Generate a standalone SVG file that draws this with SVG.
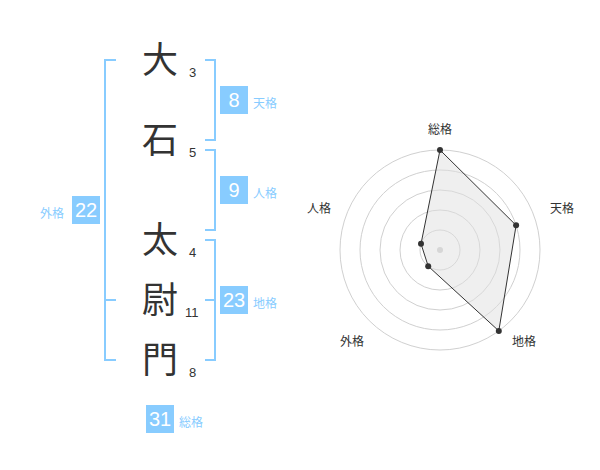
<svg xmlns="http://www.w3.org/2000/svg" width="600" height="470" viewBox="0 0 600 470">
<style>
.ch{font-family:"Noto Sans CJK JP","Noto Sans CJK SC",sans-serif;font-size:36px;fill:#333;text-anchor:middle}
.n{font-family:"Liberation Sans",Arial,sans-serif;font-size:13px;fill:#333}
.br{fill:none;stroke:#88ccff;stroke-width:2}
.box{fill:#88ccff}
.bn{font-family:"Liberation Sans",Arial,sans-serif;font-size:20px;fill:#fff;text-anchor:middle}
.lb{font-family:"Noto Sans CJK JP","Noto Sans CJK SC",sans-serif;font-size:12px;fill:#88ccff}
.ring{fill:none;stroke:#d0d0d0;stroke-width:1}
.ax{font-family:"Noto Sans CJK JP","Noto Sans CJK SC",sans-serif;font-size:12px;fill:#333;text-anchor:middle}
.pt{fill:#333}
</style>
<rect width="600" height="470" fill="#fff"/>
<g id="connectors">
<path class="br" d="M116,60 H105 V360 H116 M105,300 H116"/>
<path class="br" d="M205,60 H215 V140 H205"/>
<path class="br" d="M205,150 H215 V230 H205"/>
<path class="br" d="M205,240 H215 V360 H205 M205,300 H215"/>
</g>
<g id="char-1"><text class="ch" x="160" y="73">大</text><text class="n" x="189" y="77">3</text></g>
<g id="char-2"><text class="ch" x="160" y="153">石</text><text class="n" x="189" y="157">5</text></g>
<g id="char-3"><text class="ch" x="160" y="253">太</text><text class="n" x="189" y="257">4</text></g>
<g id="char-4"><text class="ch" x="160" y="313">尉</text><text class="n" x="185" y="317">11</text></g>
<g id="char-5"><text class="ch" x="160" y="373">門</text><text class="n" x="189" y="377">8</text></g>
<g id="tenkaku"><rect class="box" x="220" y="86" width="28" height="28"/><text class="bn" x="234" y="107">8</text><text class="lb" x="253" y="108">天格</text></g>
<g id="jinkaku"><rect class="box" x="220" y="176" width="28" height="28"/><text class="bn" x="234" y="197">9</text><text class="lb" x="253" y="198">人格</text></g>
<g id="gaikaku"><rect class="box" x="72" y="196" width="28" height="28"/><text class="bn" x="86" y="217">22</text><text class="lb" x="40" y="218">外格</text></g>
<g id="chikaku"><rect class="box" x="220" y="286" width="28" height="28"/><text class="bn" x="234" y="307">23</text><text class="lb" x="253" y="308">地格</text></g>
<g id="soukaku"><rect class="box" x="146" y="405" width="28" height="28"/><text class="bn" x="160" y="426">31</text><text class="lb" x="179" y="427">総格</text></g>
<g id="radar">
<circle class="ring" cx="440" cy="250" r="20"/>
<circle class="ring" cx="440" cy="250" r="40"/>
<circle class="ring" cx="440" cy="250" r="60"/>
<circle class="ring" cx="440" cy="250" r="80"/>
<circle class="ring" cx="440" cy="250" r="100"/>
<circle cx="440" cy="250" r="3" fill="#cccccc"/>
<polygon points="440,150 516.1,225.3 498.8,330.9 428.2,266.2 421,243.8" fill="#e0e0e0" fill-opacity="0.5" stroke="#333" stroke-width="1"/>
<circle class="pt" cx="440" cy="150" r="3"/>
<circle class="pt" cx="516.1" cy="225.3" r="3"/>
<circle class="pt" cx="498.8" cy="330.9" r="3"/>
<circle class="pt" cx="428.2" cy="266.2" r="3"/>
<circle class="pt" cx="421" cy="243.8" r="3"/>
<text class="ax" x="440" y="134">総格</text>
<text class="ax" x="562" y="213">天格</text>
<text class="ax" x="524" y="346">地格</text>
<text class="ax" x="352" y="346">外格</text>
<text class="ax" x="319" y="213">人格</text>
</g>
</svg>
